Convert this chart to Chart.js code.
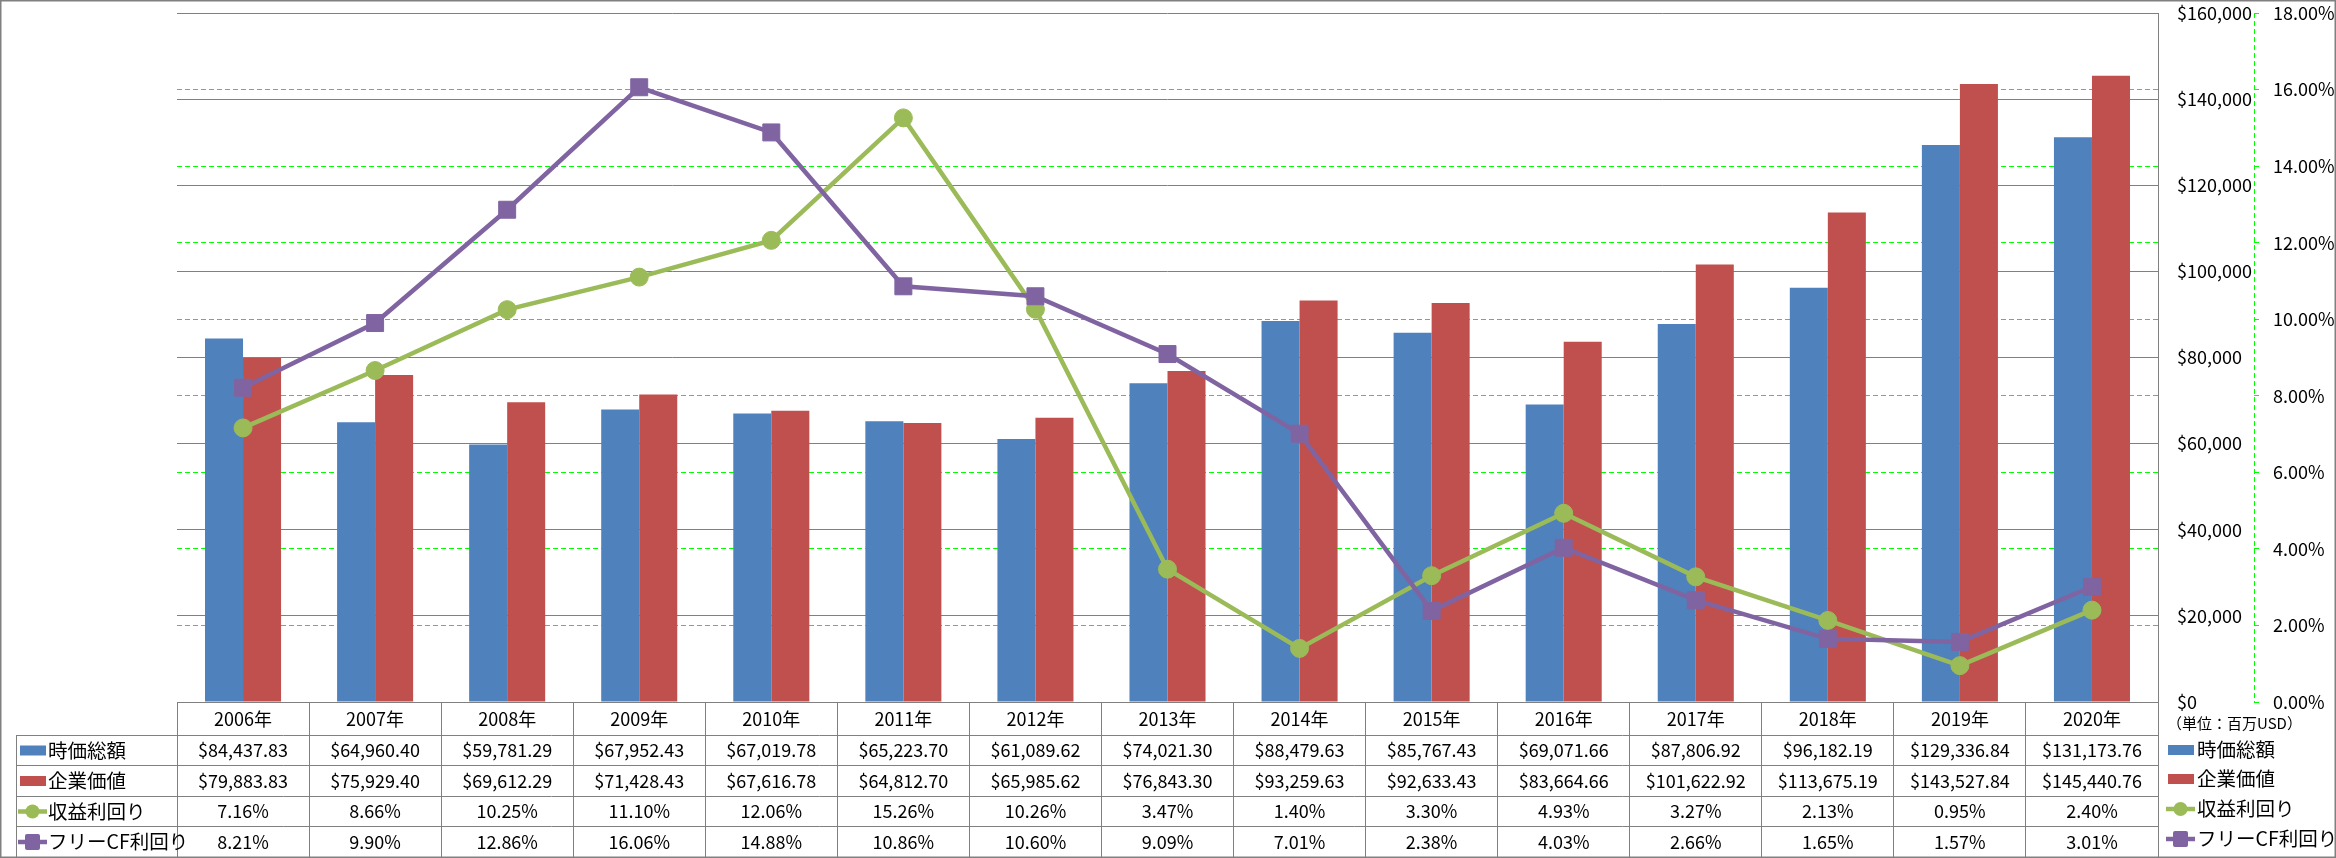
<!DOCTYPE html>
<html>
<head>
<meta charset="utf-8">
<script src="https://cdn.jsdelivr.net/npm/chart.js@4/dist/chart.umd.min.js"></script>
<style>
html,body{margin:0;padding:0;background:#fff;overflow:hidden}
#wrap{width:2336px;height:858px;position:relative}
canvas{display:block}
</style>
</head>
<body>
<div id="wrap"><canvas id="c" width="2336" height="858"></canvas></div>
<script>
// ---------- data ----------
const years = ['2006年','2007年','2008年','2009年','2010年','2011年','2012年','2013年','2014年','2015年','2016年','2017年','2018年','2019年','2020年'];
const marketCap = [84437.83, 64960.40, 59781.29, 67952.43, 67019.78, 65223.70, 61089.62, 74021.30, 88479.63, 85767.43, 69071.66, 87806.92, 96182.19, 129336.84, 131173.76];
const enterpriseValue = [79883.83, 75929.40, 69612.29, 71428.43, 67616.78, 64812.70, 65985.62, 76843.30, 93259.63, 92633.43, 83664.66, 101622.92, 113675.19, 143527.84, 145440.76];
const earningsYield = [7.16, 8.66, 10.25, 11.10, 12.06, 15.26, 10.26, 3.47, 1.40, 3.30, 4.93, 3.27, 2.13, 0.95, 2.40];
const fcfYield = [8.21, 9.90, 12.86, 16.06, 14.88, 10.86, 10.60, 9.09, 7.01, 2.38, 4.03, 2.66, 1.65, 1.57, 3.01];
const seriesNames = ['時価総額', '企業価値', '収益利回り', 'フリーCF利回り'];
const usdAxis = { min: 0, max: 160000, step: 20000 };
const pctAxis = { min: 0, max: 18, step: 2 };
const unitNote = '（単位：百万USD）';

// ---------- styles ----------
const BLUE = '#4F81BD', RED = '#C0504D', GREEN = '#9BBB59', PURPLE = '#8064A2';
const GRAY = '#808080', LIME = '#00FF00', TEXT = '#000000';
const NUM_FONT = "'Noto Sans CJK JP', 'Liberation Sans', sans-serif";
const JP_FONT = "'Noto Sans CJK JP', sans-serif";

const fmtUSD = v => '$' + v.toLocaleString('en-US', {minimumFractionDigits: 2, maximumFractionDigits: 2});
const fmtPct = v => v.toFixed(2) + '%';

const rowData = [
  {name: seriesNames[0], type: 'bar', color: BLUE, values: marketCap, fmt: fmtUSD},
  {name: seriesNames[1], type: 'bar', color: RED, values: enterpriseValue, fmt: fmtUSD},
  {name: seriesNames[2], type: 'circle', color: GREEN, values: earningsYield, fmt: fmtPct},
  {name: seriesNames[3], type: 'rect', color: PURPLE, values: fcfYield, fmt: fmtPct}
];

function drawKey(ctx, type, x, y, color) {
  ctx.save();
  ctx.fillStyle = color; ctx.strokeStyle = color;
  if (type === 'bar') {
    ctx.fillRect(x, y - 5, 26, 10);
  } else {
    ctx.lineWidth = 4.5;
    ctx.beginPath(); ctx.moveTo(x - 2, y); ctx.lineTo(x + 27, y); ctx.stroke();
    const cx = x + 12.5;
    if (type === 'circle') {
      ctx.beginPath(); ctx.arc(cx, y, 7, 0, Math.PI * 2); ctx.fill();
    } else {
      ctx.beginPath();
      if (ctx.roundRect) ctx.roundRect(cx - 7.5, y - 8, 15, 16, 2); else ctx.rect(cx - 7.5, y - 8, 15, 16);
      ctx.fill();
    }
  }
  ctx.restore();
}

const axisLinePlugin = {
  id: 'pctAxisLine',
  beforeDatasetsDraw(chart) {
    const s = chart.scales.y1;
    const ctx = chart.ctx;
    ctx.save();
    ctx.strokeStyle = LIME; ctx.lineWidth = 1; ctx.setLineDash([5, 3]);
    const x = Math.round(s.left) + 0.5;
    ctx.beginPath(); ctx.moveTo(x, s.top); ctx.lineTo(x, s.bottom); ctx.stroke();
    ctx.restore();
  }
};

const tablePlugin = {
  id: 'dataTable',
  afterDraw(chart) {
    const ctx = chart.ctx;
    const xs = chart.scales.x;
    const area = chart.chartArea;
    const top = area.bottom;
    const H = chart.height;
    const edges = [top, top + 33, top + 63, top + 94, top + 124, H - 1];
    const leftX = 16;
    ctx.save();
    ctx.strokeStyle = GRAY; ctx.lineWidth = 1;
    for (let r = 1; r <= 4; r++) {
      const y = Math.round(edges[r]) + 0.5;
      ctx.beginPath(); ctx.moveTo(leftX, y); ctx.lineTo(area.right, y); ctx.stroke();
    }
    ctx.beginPath(); ctx.moveTo(leftX + 0.5, edges[1]); ctx.lineTo(leftX + 0.5, H); ctx.stroke();

    ctx.textBaseline = 'middle';
    rowData.forEach((row, r) => {
      const cy = (edges[r + 1] + edges[r + 2]) / 2 + 0.5;
      drawKey(ctx, row.type, 20, cy, row.color);
      ctx.fillStyle = TEXT;
      ctx.textAlign = 'left';
      ctx.font = '19.5px ' + JP_FONT;
      ctx.fillText(row.name, 48, cy);
      ctx.textAlign = 'center';
      ctx.font = '18px ' + NUM_FONT;
      row.values.forEach((v, i) => {
        ctx.fillText(row.fmt(v), xs.getPixelForValue(i), cy);
      });
    });

    const lx = 2167;
    ctx.textAlign = 'left';
    ctx.fillStyle = TEXT;
    ctx.font = '15px ' + JP_FONT;
    ctx.fillText(unitNote, lx, 723);
    const ly = [750, 779, 809, 839];
    rowData.forEach((row, r) => {
      drawKey(ctx, row.type, lx + 1, ly[r], row.color);
      ctx.fillStyle = TEXT;
      ctx.font = '19.5px ' + JP_FONT;
      ctx.fillText(row.name, 2197, ly[r]);
    });

    ctx.strokeStyle = GRAY; ctx.lineWidth = 1.5;
    ctx.strokeRect(0.75, 0.75, chart.width - 1.5, H - 1.5);
    ctx.restore();
  }
};

Chart.defaults.font.family = NUM_FONT;
Chart.defaults.font.size = 18;
Chart.defaults.color = TEXT;

const fixV = w => s => { s.width = w; s.paddingTop = 10; s.paddingBottom = 10; };

new Chart(document.getElementById('c'), {
  type: 'bar',
  data: {
    labels: years,
    datasets: [
      {type: 'line', label: seriesNames[3], data: fcfYield, yAxisID: 'y1', order: 1,
       borderColor: PURPLE, backgroundColor: PURPLE, borderWidth: 4.5, tension: 0,
       pointStyle: 'rect', pointRadius: 12, pointBorderWidth: 1, pointBackgroundColor: PURPLE, pointBorderColor: PURPLE},
      {type: 'line', label: seriesNames[2], data: earningsYield, yAxisID: 'y1', order: 2,
       borderColor: GREEN, backgroundColor: GREEN, borderWidth: 4.5, tension: 0,
       pointStyle: 'circle', pointRadius: 9, pointBorderWidth: 1, pointBackgroundColor: GREEN, pointBorderColor: GREEN},
      {label: seriesNames[0], data: marketCap, yAxisID: 'y', order: 3, backgroundColor: BLUE,
       barPercentage: 1.0, categoryPercentage: 0.5758},
      {label: seriesNames[1], data: enterpriseValue, yAxisID: 'y', order: 4, backgroundColor: RED,
       barPercentage: 1.0, categoryPercentage: 0.5758}
    ]
  },
  options: {
    responsive: false,
    animation: false,
    devicePixelRatio: 1,
    layout: {padding: {left: 177, top: 13, right: 0, bottom: 0}},
    plugins: {legend: {display: false}, tooltip: {enabled: false}, title: {display: false}},
    scales: {
      x: {
        position: 'bottom',
        offset: true,
        grid: {display: true, offset: true, drawOnChartArea: false, drawTicks: true, tickLength: 155, tickColor: GRAY, color: GRAY, lineWidth: 1},
        border: {display: true, color: GRAY, width: 1},
        ticks: {padding: -149, maxRotation: 0, autoSkip: false, color: TEXT, font: {size: 18, family: NUM_FONT}},
        afterFit: s => { s.height = 156; }
      },
      y: {
        position: 'right',
        weight: 0,
        min: usdAxis.min, max: usdAxis.max,
        grid: {color: GRAY, lineWidth: 1, drawTicks: false},
        border: {display: true, color: GRAY, width: 1},
        ticks: {stepSize: usdAxis.step, padding: 19, color: TEXT, font: {size: 18, family: NUM_FONT},
                callback: v => '$' + Number(v).toLocaleString('en-US')},
        afterFit: fixV(96)
      },
      y1: {
        position: 'right',
        weight: 1,
        min: pctAxis.min, max: pctAxis.max,
        grid: {
          color: c => (c.tick && (c.tick.value === pctAxis.min || c.tick.value === pctAxis.max)) ? 'rgba(0,0,0,0)' : LIME,
          lineWidth: 1, drawTicks: true, tickLength: 5, tickColor: LIME, tickBorderDash: []
        },
        border: {display: false, color: LIME, width: 1, dash: [5, 3]},
        ticks: {stepSize: pctAxis.step, padding: 14, color: TEXT, font: {size: 18, family: NUM_FONT},
                callback: v => Number(v).toFixed(2) + '%'},
        afterFit: fixV(82)
      }
    }
  },
  plugins: [axisLinePlugin, tablePlugin]
});
</script>
</body>
</html>
